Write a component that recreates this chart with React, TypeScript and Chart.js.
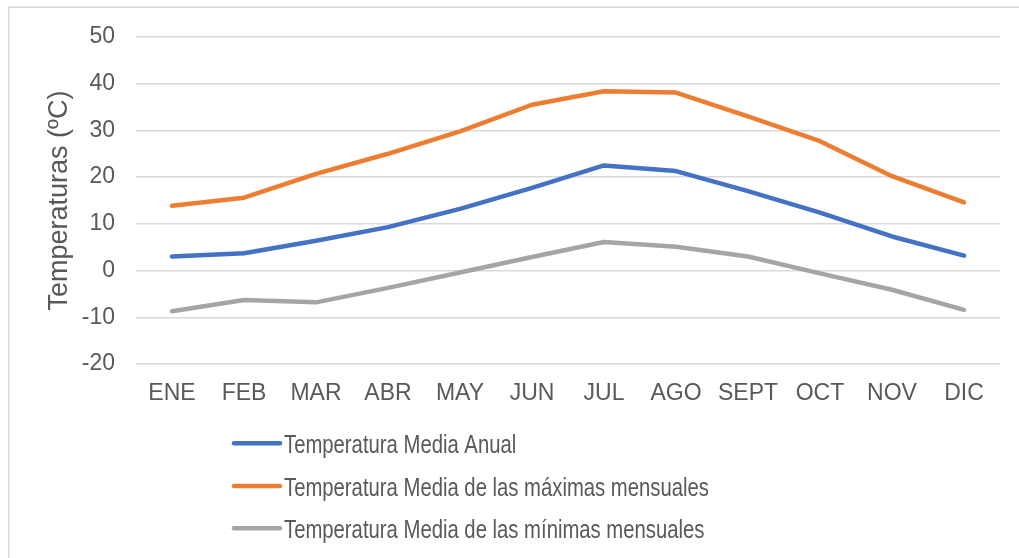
import React, { useEffect, useRef } from "react";
import { Chart, registerables } from "chart.js";

Chart.register(...registerables);

const months = ["ENE", "FEB", "MAR", "ABR", "MAY", "JUN", "JUL", "AGO", "SEPT", "OCT", "NOV", "DIC"];
const mediaAnual = [3.0, 3.7, 6.4, 9.3, 13.2, 17.7, 22.5, 21.3, 17.0, 12.4, 7.3, 3.2];
const mediaMaximas = [13.9, 15.6, 20.7, 25.0, 29.8, 35.5, 38.4, 38.1, 33.0, 27.7, 20.2, 14.6];
const mediaMinimas = [-8.7, -6.3, -6.8, -3.7, -0.4, 2.9, 6.1, 5.1, 3.0, -0.6, -4.1, -8.4];
const seriesNames = [
  "Temperatura Media Anual",
  "Temperatura Media de las máximas mensuales",
  "Temperatura Media de las mínimas mensuales",
];
const seriesColors = ["#4472C4", "#ED7D31", "#A5A5A5"];
const yMin = -20;
const yMax = 50;
const yStep = 10;
const yTitle = "Temperaturas (ºC)";

const FONT = "'Liberation Sans', Arial, sans-serif";
const TEXT = "#595959";
const GRID = "#d9d9d9";

const frameAndLegend = {
  id: "frameAndLegend",
  beforeDraw(chart: any) {
    const ctx = chart.ctx;
    ctx.save();
    ctx.strokeStyle = GRID;
    ctx.lineWidth = 1.5;
    ctx.beginPath();
    ctx.moveTo(8.75, chart.height + 2);
    ctx.lineTo(8.75, 7.25);
    ctx.lineTo(chart.width + 2, 7.25);
    ctx.stroke();
    ctx.restore();
  },
  afterDraw(chart: any) {
    const ctx = chart.ctx;
    const x0 = 234;
    const x1 = 280;
    const ys = [443.3, 486, 528.3];
    chart.data.datasets.forEach((ds: any, i: number) => {
      const y = ys[i];
      ctx.save();
      ctx.strokeStyle = ds.borderColor;
      ctx.lineWidth = 4.5;
      ctx.lineCap = "round";
      ctx.beginPath();
      ctx.moveTo(x0, y);
      ctx.lineTo(x1, y);
      ctx.stroke();
      ctx.fillStyle = TEXT;
      ctx.font = `26px ${FONT}`;
      ctx.textBaseline = "alphabetic";
      ctx.textAlign = "left";
      ctx.translate(x1 + 4, y + 9.5);
      ctx.scale(0.78, 1);
      ctx.fillText(ds.label, 0, 0);
      ctx.restore();
    });
  },
};

export default function App() {
  const ref = useRef<HTMLCanvasElement | null>(null);
  useEffect(() => {
    if (!ref.current) return;
    const data = [mediaAnual, mediaMaximas, mediaMinimas];
    const chart = new Chart(ref.current, {
      type: "line",
      data: {
        labels: months,
        datasets: data.map((d, i) => ({
          label: seriesNames[i],
          data: d,
          borderColor: seriesColors[i],
          backgroundColor: seriesColors[i],
          borderWidth: 4.5,
          pointRadius: 0,
          pointHoverRadius: 0,
          tension: 0,
          borderCapStyle: "round",
          borderJoinStyle: "round",
          fill: false,
        })),
      },
      options: {
        responsive: false,
        animation: false,
        layout: { padding: { left: 0, right: 19, top: 37, bottom: 144 } },
        plugins: {
          legend: { display: false },
          tooltip: { enabled: false },
        },
        scales: {
          x: {
            offset: true,
            grid: { display: false, drawTicks: false },
            border: { display: false },
            ticks: {
              color: TEXT,
              font: { family: FONT, size: 23 },
              padding: 16,
              maxRotation: 0,
              autoSkip: false,
            },
            afterFit: (s: any) => {
              s.height = 50;
            },
          },
          y: {
            min: yMin,
            max: yMax,
            grid: { color: GRID, lineWidth: 1.5, drawTicks: false },
            border: { display: false },
            ticks: {
              stepSize: yStep,
              color: TEXT,
              font: { family: FONT, size: 23 },
              padding: 21,
            },
            title: {
              display: true,
              text: yTitle,
              color: TEXT,
              font: { family: FONT, size: 27 },
              padding: { top: 43, bottom: 0 },
            },
            afterFit: (s: any) => {
              s.width = 136;
            },
          },
        },
      },
      plugins: [frameAndLegend],
    } as any);
    return () => chart.destroy();
  }, []);
  return (
    <div style={{ position: "fixed", left: 0, top: 0, width: 1019, height: 558, background: "#fff" }}>
      <canvas ref={ref} width={1019} height={558} style={{ display: "block" }} />
    </div>
  );
}
